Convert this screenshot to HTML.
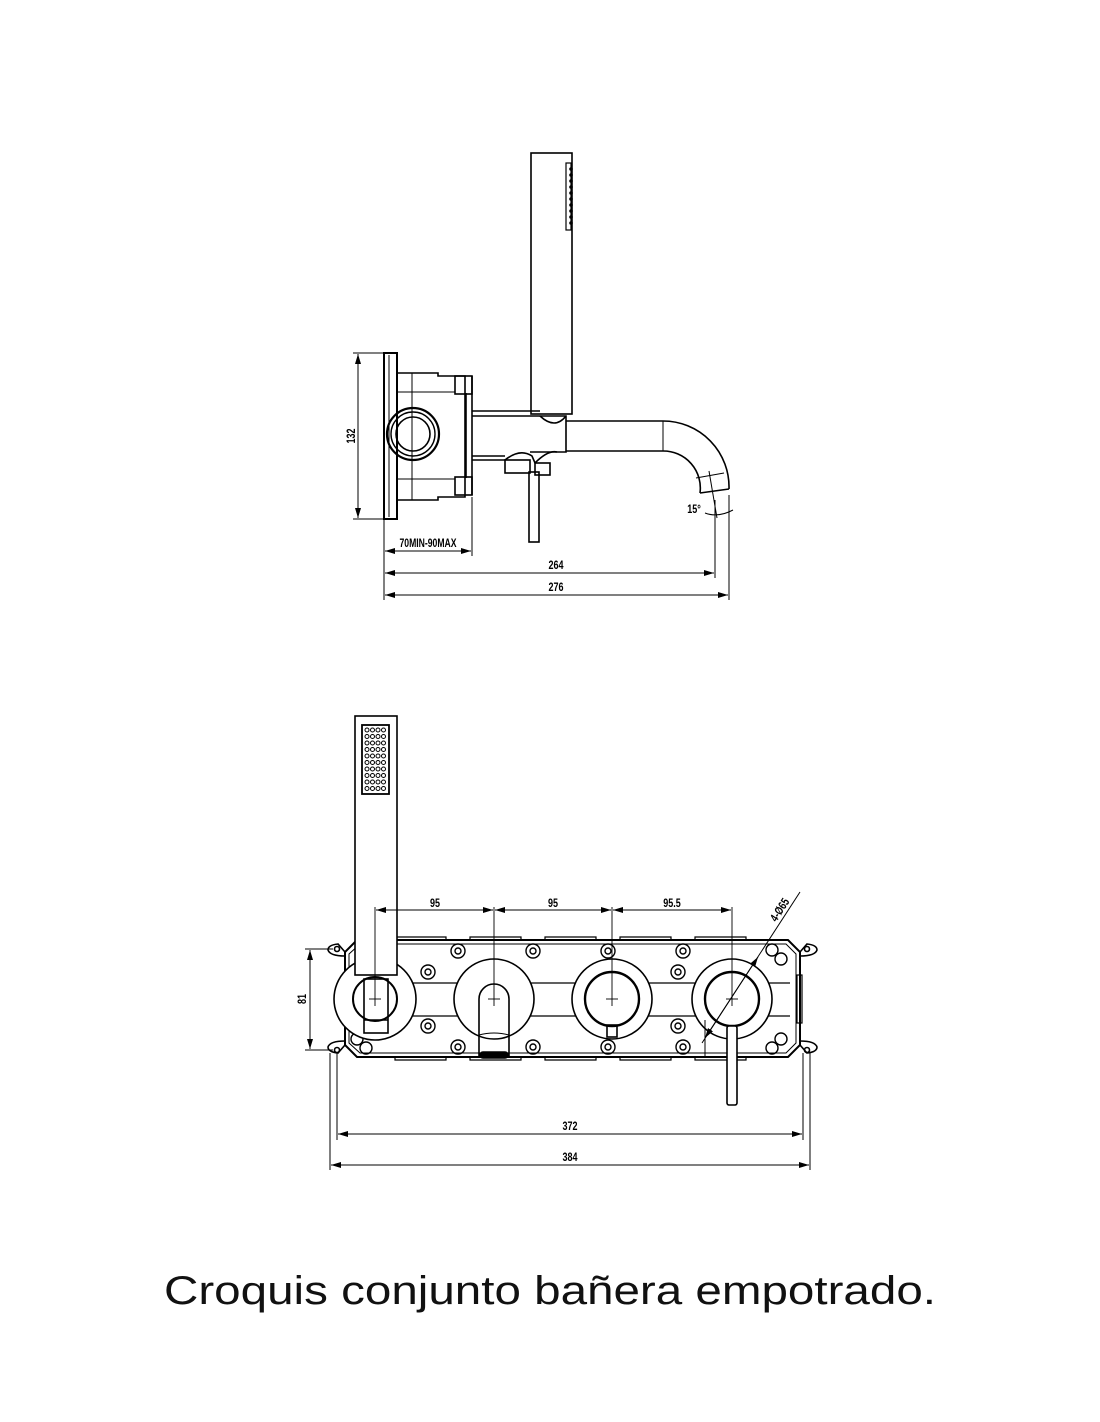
<!DOCTYPE html>
<html><head><meta charset="utf-8"><style>
html,body{margin:0;padding:0;background:#fff;}
svg{display:block}
</style></head><body>
<svg width="1100" height="1422" viewBox="0 0 1100 1422" xmlns="http://www.w3.org/2000/svg">
<defs>
<marker id="a" viewBox="0 0 10 6" refX="10" refY="3" markerWidth="10" markerHeight="6" orient="auto-start-reverse" markerUnits="userSpaceOnUse"><path d="M0,0 L10,3 L0,6 z" fill="#000"/></marker>
</defs>
<g fill="none" stroke="#000" stroke-width="1.6">
<!-- TOP VIEW -->
<!-- hand shower -->
<rect x="531" y="153" width="41" height="261"/>
<rect x="566" y="163" width="5" height="67" stroke-width="1.2"/>
<g fill="#000" stroke="none">
<circle cx="571" cy="169" r="1.8"/><circle cx="571" cy="175" r="1.8"/><circle cx="571" cy="181" r="1.8"/><circle cx="571" cy="187" r="1.8"/><circle cx="571" cy="193" r="1.8"/><circle cx="571" cy="199" r="1.8"/><circle cx="571" cy="205" r="1.8"/><circle cx="571" cy="211" r="1.8"/><circle cx="571" cy="217" r="1.8"/><circle cx="571" cy="223" r="1.8"/>
</g>
<!-- flange -->
<rect x="384" y="353" width="13" height="166" stroke-width="2"/>
<line x1="389" y1="355" x2="389" y2="517" stroke-width="1"/>
<!-- box -->
<path d="M397 373 H438 V376 H465 V497 H438 V500 H397" stroke-width="1.6"/>
<rect x="455" y="376" width="17" height="18" stroke-width="1.6"/>
<rect x="455" y="477" width="17" height="18" stroke-width="1.6"/>
<line x1="466" y1="393" x2="466" y2="478"/>
<line x1="472" y1="376" x2="472" y2="495"/>
<line x1="397" y1="392" x2="455" y2="392" stroke-width="1"/>
<line x1="397" y1="479" x2="455" y2="479" stroke-width="1"/>
<line x1="412" y1="373" x2="412" y2="500" stroke-width="1"/>
<circle cx="413" cy="434" r="26" stroke-width="2.2"/>
<circle cx="413" cy="434" r="22" stroke-width="1.4"/>
<circle cx="413" cy="434" r="17" stroke-width="1.6"/>
<!-- pipe body -->
<line x1="472" y1="411" x2="540" y2="411"/>
<line x1="472" y1="416" x2="540" y2="416"/>
<line x1="472" y1="456" x2="505" y2="456"/>
<line x1="472" y1="460" x2="505" y2="460"/>
<path d="M540 416 H566 V452 H530"/>
<path d="M540 416 Q555 430 566 416"/>
<!-- valve handle -->
<path d="M505 460 Q520 448 532 456 L535 463 Q548 450 557 452" />
<rect x="505" y="460" width="25" height="13"/>
<rect x="535" y="463" width="15" height="12"/>
<rect x="529" y="472" width="10" height="70"/>
<!-- spout -->
<path d="M566 421 H663 A66 66 0 0 1 729 489"/>
<path d="M566 451 H663 A37 37 0 0 1 700 493"/>
<line x1="663" y1="421" x2="663" y2="451" stroke-width="1"/>
<path d="M700 493 L729 489"/>
<path d="M696 478 L724 473" stroke-width="1"/>
<line x1="709" y1="471" x2="717" y2="518" stroke-width="1"/>
<!-- dims top -->
<g stroke-width="1">
<line x1="384" y1="353" x2="353" y2="353"/><line x1="384" y1="519" x2="353" y2="519"/>
<line x1="358" y1="354" x2="358" y2="518" marker-start="url(#a)" marker-end="url(#a)"/>
<line x1="384" y1="520" x2="384" y2="600"/>
<line x1="472" y1="497" x2="472" y2="556"/>
<line x1="385" y1="551" x2="471" y2="551" marker-start="url(#a)" marker-end="url(#a)"/>
<line x1="715" y1="500" x2="715" y2="578"/>
<line x1="729" y1="495" x2="729" y2="600"/>
<line x1="385" y1="573" x2="714" y2="573" marker-start="url(#a)" marker-end="url(#a)"/>
<line x1="385" y1="595" x2="728" y2="595" marker-start="url(#a)" marker-end="url(#a)"/>
<path d="M705 513 Q718 518 733 510"/>
</g>
</g>
<g font-family="Liberation Sans, sans-serif" font-size="12" font-weight="bold" fill="#000">
<text x="0" y="0" transform="translate(355,436) rotate(-90) scale(0.75,1)" text-anchor="middle">132</text>
<text x="0" y="0" transform="translate(428,547) scale(0.72,1)" text-anchor="middle">70MIN-90MAX</text>
<text x="0" y="0" transform="translate(556,569) scale(0.75,1)" text-anchor="middle">264</text>
<text x="0" y="0" transform="translate(556,591) scale(0.75,1)" text-anchor="middle">276</text>
<text x="0" y="0" transform="translate(694,513) scale(0.75,1)" text-anchor="middle">15°</text>
</g>

<!-- BOTTOM VIEW -->
<g fill="none" stroke="#000" stroke-width="1.6">
<!-- plate -->
<path d="M357 940 H788 L800 952 V1045 L788 1057 H357 L345 1045 V952 Z" stroke-width="2"/>
<path d="M360 944 H786 L796 954 V1043 L786 1053 H360 L349 1043 V954 Z" stroke-width="1"/>
<!-- ears -->
<path d="M345 952 L338 944 Q328 945 328 950 Q330 956 345 956"/>
<path d="M345 1045 L338 1053 Q328 1052 328 1047 Q330 1041 345 1041"/>
<path d="M800 952 L807 944 Q817 945 817 950 Q815 956 800 956"/>
<path d="M800 1045 L807 1053 Q817 1052 817 1047 Q815 1041 800 1041"/>
<circle cx="337" cy="949" r="2.5"/><circle cx="337" cy="1050" r="2.5"/>
<circle cx="807" cy="949" r="2.5"/><circle cx="807" cy="1050" r="2.5"/>
<!-- tabs top/bottom -->
<g stroke-width="1.2">
<path d="M395 940 V937 H446 V940"/><path d="M470 940 V937 H521 V940"/><path d="M545 940 V937 H596 V940"/><path d="M620 940 V937 H671 V940"/><path d="M695 940 V937 H746 V940"/>
<path d="M395 1057 V1060 H446 V1057"/><path d="M470 1057 V1060 H521 V1057"/><path d="M545 1057 V1060 H596 V1057"/><path d="M620 1057 V1060 H671 V1057"/><path d="M695 1057 V1060 H746 V1057"/>
<rect x="797" y="975" width="5" height="48"/>
</g>
<!-- channels -->
<line x1="355" y1="983" x2="790" y2="983" stroke-width="1.2"/>
<line x1="355" y1="1016" x2="790" y2="1016" stroke-width="1.2"/>
<!-- bosses -->
<g stroke-width="1.4">
<circle cx="458" cy="951" r="7"/><circle cx="458" cy="951" r="3"/>
<circle cx="533" cy="951" r="7"/><circle cx="533" cy="951" r="3"/>
<circle cx="608" cy="951" r="7"/><circle cx="608" cy="951" r="3"/>
<circle cx="683" cy="951" r="7"/><circle cx="683" cy="951" r="3"/>
<circle cx="458" cy="1047" r="7"/><circle cx="458" cy="1047" r="3"/>
<circle cx="533" cy="1047" r="7"/><circle cx="533" cy="1047" r="3"/>
<circle cx="608" cy="1047" r="7"/><circle cx="608" cy="1047" r="3"/>
<circle cx="683" cy="1047" r="7"/><circle cx="683" cy="1047" r="3"/>
<circle cx="428" cy="972" r="7"/><circle cx="428" cy="972" r="3"/>
<circle cx="428" cy="1026" r="7"/><circle cx="428" cy="1026" r="3"/>
<circle cx="678" cy="972" r="7"/><circle cx="678" cy="972" r="3"/>
<circle cx="678" cy="1026" r="7"/><circle cx="678" cy="1026" r="3"/>
<circle cx="772" cy="950" r="6"/><circle cx="781" cy="959" r="6"/>
<circle cx="772" cy="1048" r="6"/><circle cx="781" cy="1039" r="6"/>
<circle cx="357" cy="1039" r="6"/><circle cx="366" cy="1048" r="6"/>
</g>
<!-- valve 1 -->
<circle cx="375" cy="999" r="41" fill="#fff"/>
<circle cx="375" cy="999" r="22" stroke-width="2"/>
<rect x="364" y="979" width="24" height="54" fill="none"/>
<line x1="364" y1="1020" x2="388" y2="1020"/>
<!-- valve 2 spout -->
<circle cx="494" cy="999" r="40" fill="#fff"/>
<path d="M479 1057 V999 A15 15 0 0 1 509 999 V1057"/>
<path d="M479 1035 Q494 1031 509 1035" stroke-width="1"/>
<rect x="480" y="1052" width="28" height="6" rx="3" fill="#000"/>
<!-- valve 3 -->
<circle cx="612" cy="999" r="40" fill="#fff"/>
<circle cx="612" cy="999" r="27" stroke-width="2.4"/>
<rect x="607" y="1025" width="10" height="12"/>
<!-- valve 4 -->
<circle cx="732" cy="999" r="40" fill="#fff"/>
<circle cx="732" cy="999" r="27" stroke-width="2.4"/>
<rect x="727" y="1026" width="10" height="79" rx="2" fill="#fff"/>
<line x1="705" y1="1020" x2="705" y2="1057" stroke-width="1"/>
<!-- hand shower -->
<rect x="355" y="716" width="42" height="259" fill="#fff"/>
<rect x="362" y="725" width="27" height="69" stroke-width="1.8"/>
<g stroke-width="1">
<g id="row"><circle cx="367" cy="730" r="2"/><circle cx="372.5" cy="730" r="2"/><circle cx="378" cy="730" r="2"/><circle cx="383.5" cy="730" r="2"/></g>
<use href="#row" y="6.5"/><use href="#row" y="13"/><use href="#row" y="19.5"/><use href="#row" y="26"/><use href="#row" y="32.5"/><use href="#row" y="39"/><use href="#row" y="45.5"/><use href="#row" y="52"/><use href="#row" y="58.5"/>
</g>
<!-- crosshairs -->
<g stroke-width="0.9">
<line x1="375" y1="907" x2="375" y2="1006"/><line x1="369" y1="999" x2="381" y2="999"/>
<line x1="494" y1="907" x2="494" y2="1006"/><line x1="488" y1="999" x2="500" y2="999"/>
<line x1="612" y1="907" x2="612" y2="1006"/><line x1="606" y1="999" x2="618" y2="999"/>
<line x1="732" y1="907" x2="732" y2="1006"/><line x1="726" y1="999" x2="738" y2="999"/>
</g>
<!-- dims bottom -->
<g stroke-width="1">
<line x1="376" y1="910" x2="493" y2="910" marker-start="url(#a)" marker-end="url(#a)"/>
<line x1="495" y1="910" x2="611" y2="910" marker-start="url(#a)" marker-end="url(#a)"/>
<line x1="613" y1="910" x2="731" y2="910" marker-start="url(#a)" marker-end="url(#a)"/>
<line x1="702" y1="1043" x2="800" y2="892"/>
<line x1="705" y1="1038" x2="758" y2="957" marker-start="url(#a)" marker-end="url(#a)"/>
<line x1="333" y1="949" x2="305" y2="949"/><line x1="333" y1="1050" x2="305" y2="1050"/>
<line x1="310" y1="950" x2="310" y2="1049" marker-start="url(#a)" marker-end="url(#a)"/>
<line x1="330" y1="1053" x2="330" y2="1170"/><line x1="337" y1="1053" x2="337" y2="1140"/>
<line x1="810" y1="1053" x2="810" y2="1170"/><line x1="803" y1="1053" x2="803" y2="1140"/>
<line x1="338" y1="1134" x2="802" y2="1134" marker-start="url(#a)" marker-end="url(#a)"/>
<line x1="331" y1="1165" x2="809" y2="1165" marker-start="url(#a)" marker-end="url(#a)"/>
</g>
</g>
<g font-family="Liberation Sans, sans-serif" font-size="12" font-weight="bold" fill="#000">
<text transform="translate(435,907) scale(0.75,1)" text-anchor="middle">95</text>
<text transform="translate(553,907) scale(0.75,1)" text-anchor="middle">95</text>
<text transform="translate(672,907) scale(0.75,1)" text-anchor="middle">95.5</text>
<text transform="translate(783,912) rotate(-57) scale(0.75,1)" text-anchor="middle">4-Ø65</text>
<text transform="translate(306,999) rotate(-90) scale(0.75,1)" text-anchor="middle">81</text>
<text transform="translate(570,1130) scale(0.75,1)" text-anchor="middle">372</text>
<text transform="translate(570,1161) scale(0.75,1)" text-anchor="middle">384</text>
</g>
<text x="550" y="1304" text-anchor="middle" font-family="Liberation Sans, sans-serif" font-size="40" fill="#111" textLength="772" lengthAdjust="spacingAndGlyphs">Croquis conjunto bañera empotrado.</text>
</svg>
</body></html>
